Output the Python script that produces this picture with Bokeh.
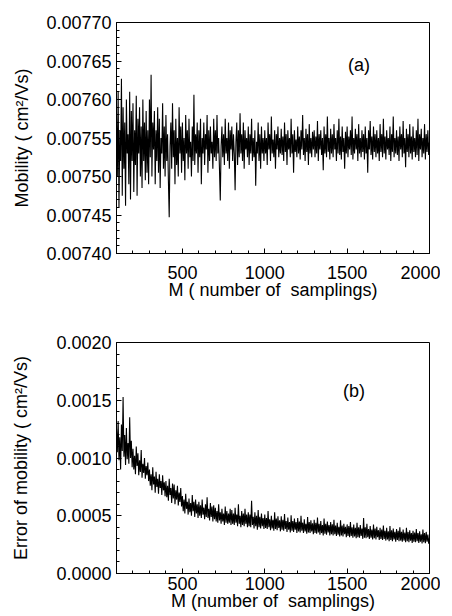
from bokeh.plotting import figure
from bokeh.layouts import column
from bokeh.models import Range1d, FixedTicker, PrintfTickFormatter, Label
from bokeh.embed import file_html
from bokeh.resources import INLINE

# ---------------- data ----------------
M = list(range(100, 2001, 5))

mobility = [
    0.007580, 0.007500, 0.007610, 0.007460, 0.007560, 0.007520, 0.007627, 0.007475, 0.007590, 0.007510, 0.007570, 0.007462, 0.007600, 0.007530, 0.007555, 0.007490, 0.007610, 0.007470, 0.007585, 0.007520,
    0.007595, 0.007480, 0.007560, 0.007515, 0.007605, 0.007475, 0.007575, 0.007530, 0.007590, 0.007500, 0.007565, 0.007485, 0.007600, 0.007520, 0.007570, 0.007495, 0.007585, 0.007505, 0.007560, 0.007490,
    0.007600, 0.007525, 0.007632, 0.007500, 0.007570, 0.007535, 0.007585, 0.007490, 0.007560, 0.007520, 0.007590, 0.007505, 0.007575, 0.007485, 0.007550, 0.007530, 0.007595, 0.007510, 0.007565, 0.007500,
    0.007580, 0.007520, 0.007555, 0.007495, 0.007447, 0.007540, 0.007570, 0.007510, 0.007595, 0.007525, 0.007560, 0.007490, 0.007575, 0.007515, 0.007550, 0.007500, 0.007590, 0.007530, 0.007565, 0.007505,
    0.007570, 0.007520, 0.007550, 0.007495, 0.007580, 0.007530, 0.007560, 0.007510, 0.007575, 0.007525, 0.007545, 0.007500, 0.007565, 0.007520, 0.007606, 0.007515, 0.007555, 0.007530, 0.007570, 0.007505,
    0.007560, 0.007525, 0.007575, 0.007490, 0.007550, 0.007530, 0.007570, 0.007515, 0.007555, 0.007535, 0.007580, 0.007505, 0.007560, 0.007520, 0.007565, 0.007530, 0.007545, 0.007510, 0.007575, 0.007525,
    0.007560, 0.007520, 0.007580, 0.007530, 0.007550, 0.007510, 0.007469, 0.007540, 0.007565, 0.007525, 0.007555, 0.007515, 0.007575, 0.007530, 0.007550, 0.007520, 0.007570, 0.007510, 0.007560, 0.007535,
    0.007565, 0.007520, 0.007555, 0.007530, 0.007482, 0.007545, 0.007570, 0.007515, 0.007560, 0.007525, 0.007582, 0.007530, 0.007555, 0.007520, 0.007570, 0.007510, 0.007560, 0.007535, 0.007550, 0.007525,
    0.007565, 0.007515, 0.007555, 0.007530, 0.007575, 0.007520, 0.007550, 0.007525, 0.007560, 0.007488, 0.007545, 0.007530, 0.007570, 0.007520, 0.007555, 0.007510, 0.007565, 0.007530, 0.007550, 0.007520,
    0.007560, 0.007530, 0.007550, 0.007515, 0.007570, 0.007535, 0.007555, 0.007520, 0.007578, 0.007530, 0.007548, 0.007525, 0.007560, 0.007510, 0.007555, 0.007535, 0.007565, 0.007525, 0.007550, 0.007530,
    0.007562, 0.007528, 0.007552, 0.007520, 0.007570, 0.007532, 0.007555, 0.007515, 0.007560, 0.007535, 0.007550, 0.007525, 0.007575, 0.007530, 0.007555, 0.007505, 0.007560, 0.007532, 0.007548, 0.007525,
    0.007565, 0.007530, 0.007552, 0.007522, 0.007560, 0.007535, 0.007580, 0.007528, 0.007550, 0.007520, 0.007562, 0.007532, 0.007555, 0.007515, 0.007568, 0.007530, 0.007550, 0.007525, 0.007558, 0.007535,
    0.007560, 0.007525, 0.007552, 0.007530, 0.007572, 0.007520, 0.007555, 0.007535, 0.007560, 0.007528, 0.007550, 0.007508, 0.007565, 0.007530, 0.007555, 0.007525, 0.007578, 0.007532, 0.007550, 0.007522,
    0.007562, 0.007530, 0.007555, 0.007525, 0.007568, 0.007535, 0.007550, 0.007520, 0.007560, 0.007530, 0.007575, 0.007528, 0.007552, 0.007522, 0.007565, 0.007532, 0.007550, 0.007510, 0.007558, 0.007530,
    0.007565, 0.007525, 0.007552, 0.007535, 0.007560, 0.007528, 0.007578, 0.007522, 0.007550, 0.007530, 0.007562, 0.007535, 0.007555, 0.007520, 0.007568, 0.007530, 0.007550, 0.007525, 0.007560, 0.007532,
    0.007555, 0.007522, 0.007565, 0.007530, 0.007550, 0.007505, 0.007560, 0.007535, 0.007572, 0.007528, 0.007552, 0.007522, 0.007565, 0.007532, 0.007555, 0.007525, 0.007560, 0.007530, 0.007550, 0.007520,
    0.007568, 0.007532, 0.007555, 0.007525, 0.007575, 0.007530, 0.007552, 0.007522, 0.007560, 0.007535, 0.007550, 0.007528, 0.007565, 0.007520, 0.007555, 0.007532, 0.007578, 0.007525, 0.007550, 0.007530,
    0.007560, 0.007528, 0.007552, 0.007520, 0.007565, 0.007535, 0.007555, 0.007525, 0.007572, 0.007530, 0.007550, 0.007512, 0.007562, 0.007532, 0.007555, 0.007525, 0.007568, 0.007530, 0.007552, 0.007522,
    0.007565, 0.007532, 0.007550, 0.007525, 0.007560, 0.007528, 0.007575, 0.007520, 0.007555, 0.007535, 0.007562, 0.007525, 0.007550, 0.007530, 0.007568, 0.007522, 0.007555, 0.007532, 0.007560, 0.007528,
    0.007545,
]

error = [
    0.001250, 0.001050, 0.001320, 0.000980, 0.001180, 0.000900, 0.001290, 0.001060, 0.001527, 0.001010, 0.001200, 0.000940, 0.001260, 0.000990, 0.001130, 0.000950, 0.001353, 0.001000, 0.001150, 0.000920,
    0.001080, 0.000900, 0.001020, 0.000860, 0.001100, 0.000930, 0.001040, 0.000850, 0.000980, 0.000880, 0.001070, 0.000830, 0.000950, 0.000870, 0.001000, 0.000820, 0.000930, 0.000850, 0.000960, 0.000800,
    0.000900, 0.000760, 0.000860, 0.000720, 0.000920, 0.000770, 0.000840, 0.000700, 0.000880, 0.000750, 0.000820, 0.000690, 0.000860, 0.000740, 0.000800, 0.000680, 0.000850, 0.000720, 0.000790, 0.000670,
    0.000800, 0.000660, 0.000760, 0.000630, 0.000820, 0.000680, 0.000740, 0.000610, 0.000780, 0.000650, 0.000770, 0.000600, 0.000720, 0.000640, 0.000760, 0.000590, 0.000700, 0.000620, 0.000740, 0.000580,
    0.000670, 0.000540, 0.000640, 0.000520, 0.000690, 0.000560, 0.000620, 0.000510, 0.000650, 0.000530, 0.000610, 0.000500, 0.000680, 0.000540, 0.000620, 0.000490, 0.000640, 0.000520, 0.000600, 0.000480,
    0.000620, 0.000500, 0.000590, 0.000480, 0.000640, 0.000510, 0.000570, 0.000470, 0.000600, 0.000490, 0.000660, 0.000480, 0.000560, 0.000460, 0.000610, 0.000490, 0.000580, 0.000450, 0.000590, 0.000470,
    0.000570, 0.000450, 0.000540, 0.000440, 0.000600, 0.000460, 0.000530, 0.000430, 0.000560, 0.000450, 0.000520, 0.000420, 0.000580, 0.000440, 0.000540, 0.000430, 0.000520, 0.000440, 0.000560, 0.000420,
    0.000550, 0.000430, 0.000520, 0.000420, 0.000570, 0.000440, 0.000510, 0.000410, 0.000600, 0.000430, 0.000500, 0.000400, 0.000540, 0.000420, 0.000520, 0.000410, 0.000560, 0.000430, 0.000510, 0.000400,
    0.000530, 0.000410, 0.000510, 0.000400, 0.000630, 0.000420, 0.000490, 0.000390, 0.000530, 0.000410, 0.000500, 0.000380, 0.000550, 0.000400, 0.000490, 0.000390, 0.000520, 0.000410, 0.000480, 0.000385,
    0.000510, 0.000395, 0.000480, 0.000385, 0.000540, 0.000400, 0.000470, 0.000375, 0.000500, 0.000390, 0.000465, 0.000370, 0.000530, 0.000385, 0.000475, 0.000375, 0.000495, 0.000395, 0.000460, 0.000365,
    0.000495, 0.000380, 0.000465, 0.000370, 0.000515, 0.000385, 0.000455, 0.000360, 0.000485, 0.000380, 0.000445, 0.000355, 0.000505, 0.000370, 0.000455, 0.000360, 0.000475, 0.000380, 0.000445, 0.000350,
    0.000480, 0.000365, 0.000450, 0.000355, 0.000500, 0.000370, 0.000440, 0.000350, 0.000470, 0.000365, 0.000430, 0.000345, 0.000490, 0.000355, 0.000445, 0.000350, 0.000460, 0.000365, 0.000435, 0.000340,
    0.000465, 0.000350, 0.000440, 0.000345, 0.000485, 0.000355, 0.000430, 0.000335, 0.000455, 0.000350, 0.000420, 0.000330, 0.000475, 0.000345, 0.000430, 0.000335, 0.000450, 0.000355, 0.000420, 0.000330,
    0.000445, 0.000340, 0.000425, 0.000330, 0.000465, 0.000340, 0.000415, 0.000325, 0.000440, 0.000335, 0.000405, 0.000320, 0.000460, 0.000330, 0.000415, 0.000320, 0.000430, 0.000340, 0.000405, 0.000315,
    0.000425, 0.000325, 0.000410, 0.000315, 0.000445, 0.000325, 0.000400, 0.000310, 0.000425, 0.000320, 0.000395, 0.000305, 0.000440, 0.000315, 0.000400, 0.000310, 0.000420, 0.000325, 0.000390, 0.000300,
    0.000480, 0.000310, 0.000400, 0.000305, 0.000430, 0.000315, 0.000385, 0.000300, 0.000410, 0.000310, 0.000380, 0.000295, 0.000425, 0.000305, 0.000390, 0.000295, 0.000405, 0.000315, 0.000375, 0.000290,
    0.000395, 0.000300, 0.000380, 0.000290, 0.000415, 0.000300, 0.000370, 0.000285, 0.000395, 0.000295, 0.000365, 0.000280, 0.000410, 0.000290, 0.000375, 0.000280, 0.000390, 0.000295, 0.000360, 0.000275,
    0.000385, 0.000290, 0.000370, 0.000280, 0.000400, 0.000285, 0.000360, 0.000275, 0.000380, 0.000285, 0.000355, 0.000270, 0.000395, 0.000280, 0.000360, 0.000270, 0.000375, 0.000285, 0.000350, 0.000265,
    0.000370, 0.000275, 0.000355, 0.000270, 0.000385, 0.000280, 0.000350, 0.000265, 0.000365, 0.000275, 0.000340, 0.000260, 0.000380, 0.000270, 0.000350, 0.000262, 0.000360, 0.000275, 0.000338, 0.000258,
    0.000310,
]

x_ticks = [500, 1000, 1500, 2000]
y_ticks_a = [0.00740, 0.00745, 0.00750, 0.00755, 0.00760, 0.00765, 0.00770]
y_ticks_b = [0.0000, 0.0005, 0.0010, 0.0015, 0.0020]

FONT = "Liberation Sans"
FS = "18px"


def style(p, xlabel, ylabel, yticks, yminor, yfmt, xstand, xlstand, ylstand):
    p.xgrid.visible = False
    p.ygrid.visible = False
    p.outline_line_color = "black"
    p.outline_line_width = 1
    p.background_fill_color = "white"
    p.border_fill_color = "white"
    p.xaxis.ticker = FixedTicker(ticks=x_ticks, minor_ticks=list(range(200, 2001, 100)))
    p.yaxis.ticker = FixedTicker(ticks=yticks, minor_ticks=yminor)
    p.yaxis.formatter = PrintfTickFormatter(format=yfmt)
    p.xaxis.axis_label = xlabel
    p.yaxis.axis_label = ylabel
    for ax in (p.xaxis, p.yaxis):
        ax.axis_line_color = "black"
        ax.axis_line_width = 1
        ax.major_tick_in = 5
        ax.major_tick_out = 0
        ax.minor_tick_in = 3
        ax.minor_tick_out = 0
        ax.major_tick_line_color = "black"
        ax.minor_tick_line_color = "black"
        ax.major_label_text_font = FONT
        ax.major_label_text_font_size = FS
        ax.major_label_text_color = "black"
        ax.axis_label_text_font = FONT
        ax.axis_label_text_font_size = FS
        ax.axis_label_text_font_style = "normal"
        ax.axis_label_text_color = "black"
    p.xaxis.major_label_standoff = xstand
    p.xaxis.axis_label_standoff = xlstand
    p.yaxis.major_label_standoff = 5
    p.yaxis.axis_label_standoff = ylstand


minor_a = [round(0.00740 + i * 0.00001, 5) for i in range(31)]
minor_b = [round(i * 0.0001, 4) for i in range(21)]

p1 = figure(width=440, height=307, output_backend="svg", toolbar_location=None,
            x_range=Range1d(100, 2000), y_range=Range1d(0.00740, 0.00770),
            min_border_left=116, min_border_right=9, min_border_top=22, min_border_bottom=54)
p1.line(M, mobility, line_color="black", line_width=1.1)
style(p1, "M ( number of\u00a0 samplings)", "Mobility ( cm\u00b2/Vs)", y_ticks_a, minor_a, "%.5f", 12, -2, 11)
p1.add_layout(Label(x=1572, y=0.007645, text="(a)", text_font=FONT, text_font_size=FS,
                    text_align="center", text_baseline="middle", text_color="black"))

p2 = figure(width=440, height=309, output_backend="svg", toolbar_location=None,
            x_range=Range1d(100, 2000), y_range=Range1d(0.0, 0.0020),
            min_border_left=116, min_border_right=11, min_border_top=35, min_border_bottom=43)
p2.line(M, error, line_color="black", line_width=1.1)
style(p2, "M (number of\u00a0 samplings)", "Error of mobility ( cm\u00b2/Vs)", y_ticks_b, minor_b, "%.4f", 3, -2, 22)
p2.add_layout(Label(x=1541, y=0.00158, text="(b)", text_font=FONT, text_font_size=FS,
                    text_align="center", text_baseline="middle", text_color="black"))

layout = column(p1, p2, spacing=0)
open("out.html", "w").write(file_html(layout, INLINE))
